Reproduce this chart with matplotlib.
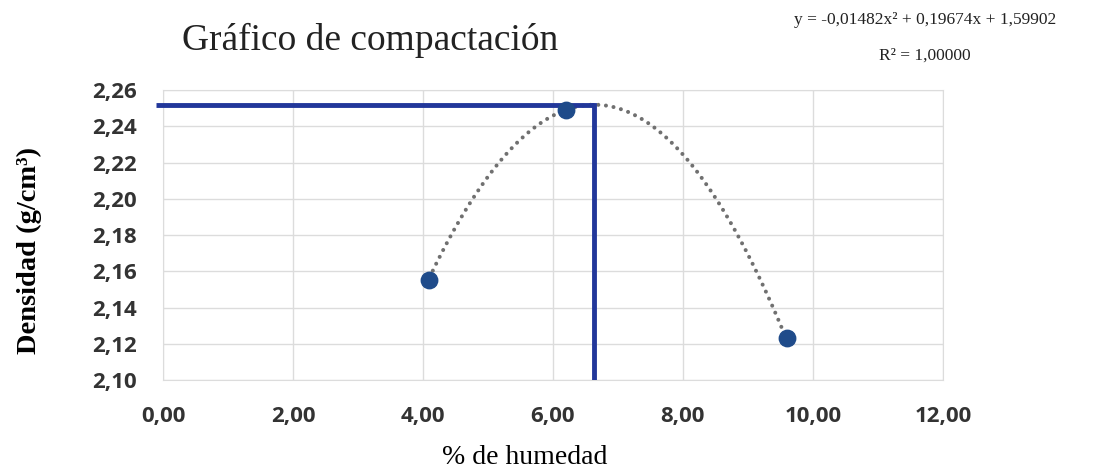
import matplotlib.pyplot as plt
import numpy as np
from matplotlib.ticker import FuncFormatter

# ensayo de compactación: humedad (%) y densidad seca (g/cm3)
humedad = [4.10, 6.20, 9.60]
densidad = [2.155, 2.249, 2.123]

# coeficientes de la línea de tendencia polinómica (grado 2)
coef = [-0.01482, 0.19674, 1.59902]
r2 = 1.0

x_ticks = [0, 2, 4, 6, 8, 10, 12]
y_ticks = [2.10, 2.12, 2.14, 2.16, 2.18, 2.20, 2.22, 2.24, 2.26]

# humedad óptima y densidad máxima
w_opt = -coef[1] / (2 * coef[0])
d_max = np.polyval(coef, w_opt)

fig = plt.figure(figsize=(11.04, 4.72), dpi=100)
ax = fig.add_axes([0.1476, 0.195, 0.7065, 0.614])

xs = np.linspace(min(humedad), max(humedad), 200)
ax.plot(xs, np.polyval(coef, xs), linestyle=(0, (0.01, 1.9)), color='#707070',
        lw=2.9, dash_capstyle='round', zorder=3)

ax.plot([-0.1, w_opt], [d_max, d_max], color='#22379a', lw=3.5, zorder=4,
        clip_on=False, solid_capstyle='butt')
ax.plot([w_opt, w_opt], [2.10, d_max], color='#22379a', lw=3.5, zorder=4,
        solid_capstyle='projecting')

ax.scatter(humedad, densidad, s=140, color='#1f4b8a', zorder=5)

ax.set_xlim(0, 12)
ax.set_ylim(2.10, 2.26)
ax.set_xticks(x_ticks)
ax.set_yticks(y_ticks)
ax.xaxis.set_major_formatter(FuncFormatter(lambda v, p: f'{v:.2f}'.replace('.', ',')))
ax.yaxis.set_major_formatter(FuncFormatter(lambda v, p: f'{v:.2f}'.replace('.', ',')))
ax.grid(True, color='#dcdcdc', lw=1)
ax.set_axisbelow(True)
for s in ax.spines.values():
    s.set_color('#dcdcdc')
ax.tick_params(length=0, labelsize=16)
ax.tick_params(axis='y', pad=19)
ax.tick_params(axis='x', pad=19)
for lab in ax.get_xticklabels() + ax.get_yticklabels():
    lab.set_fontfamily('Open Sans')
    lab.set_fontweight('bold')
    lab.set_color('#333333')

ax.set_xlabel('% de humedad', family='Liberation Serif', fontsize=20)
ax.xaxis.set_label_coords(0.464, -0.225)
ax.set_ylabel('Densidad (g/cm³)', family='Liberation Serif', fontsize=20.5,
              fontweight='bold')
ax.yaxis.set_label_coords(-0.155, 0.445)

fig.text(0.335, 0.915, 'Gráfico de compactación', family='Liberation Serif',
         fontsize=27, ha='center', va='center', color='#222222')
eq = 'y = {:.5f}x² + {:.5f}x + {:.5f}'.format(*coef).replace('.', ',')
fig.text(0.838, 0.958, eq, family='Liberation Serif', fontsize=12.5,
         ha='center', va='center', color='#222222')
fig.text(0.838, 0.882, 'R² = ' + f'{r2:.5f}'.replace('.', ','),
         family='Liberation Serif', fontsize=12.5, ha='center', va='center',
         color='#222222')

fig.savefig('out.png', dpi=100)
